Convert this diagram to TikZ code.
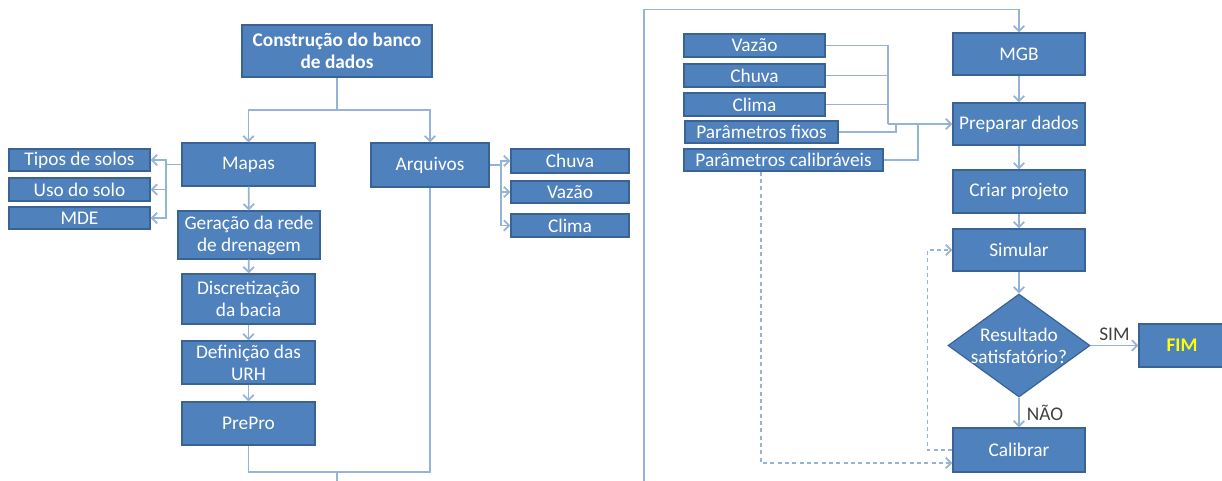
\documentclass[tikz,border=0pt]{standalone}
\usepackage{fontspec}
\setmainfont{Carlito}
\usetikzlibrary{arrows.meta,calc,shapes.geometric}
\definecolor{boxfill}{HTML}{4F81BD}
\definecolor{boxedge}{HTML}{3A6395}
\definecolor{wirecol}{HTML}{95B3D7}
\definecolor{fimtext}{HTML}{FFFF00}
\newcommand\pxu{0.75pt}
\newcommand\boxfont{\fontsize{14.5}{16.5}\selectfont}

\begin{document}
\begin{tikzpicture}[
  x=0.75pt, y=-0.75pt,
  box/.style={draw=boxedge, line width=0.9pt, fill=boxfill, text=white, align=center, inner sep=0pt, font=\boxfont},
  big/.style={box, minimum width=133*\pxu, minimum height=43*\pxu},
  slim/.style={box, minimum height=23*\pxu},
  wire/.style={draw=wirecol, line width=1.3pt},
  arr/.style={wire, -{Straight Barb[length=4pt,width=8pt]}},
  loopback/.style={arr, dash pattern=on 3pt off 2.5pt},
  lbl/.style={font=\boxfont, text=black!75}
]
\useasboundingbox (0,0) rectangle (1222,480);

\node[box, font=\boxfont\bfseries, minimum width=190*\pxu, minimum height=52*\pxu] (db) at (337,51) {Construção do banco\\de dados};
\node[big] (mapas) at (248.5,164.5) {Mapas};
\node[big, minimum width=118*\pxu, minimum height=44*\pxu] (arquivos) at (430,165) {Arquivos};
\node[slim, minimum width=141*\pxu, minimum height=22*\pxu] (tipos) at (79.5,160) {Tipos de solos};
\node[slim, minimum width=141*\pxu] (uso) at (79.5,189.5) {Uso do solo};
\node[slim, minimum width=141*\pxu, minimum height=22*\pxu] (mde) at (79.5,218) {MDE};
\node[slim, minimum width=118*\pxu, minimum height=24*\pxu] (chuvaA) at (570,161) {Chuva};
\node[slim, minimum width=118*\pxu, minimum height=22*\pxu] (vazaoA) at (570,192) {Vazão};
\node[slim, minimum width=118*\pxu] (climaA) at (570,225.5) {Clima};
\node[big, minimum width=142*\pxu, minimum height=48*\pxu] (geracao) at (249,235) {Geração da rede\\de drenagem};
\node[big, minimum height=50*\pxu] (discret) at (248.5,299) {Discretização\\da bacia};
\node[big] (urh) at (248.5,362.5) {Definição das\\URH};
\node[big] (prepro) at (248.5,423.5) {PrePro};

\node[big, minimum width=132*\pxu, minimum height=42*\pxu] (mgb) at (1019,54) {MGB};
\node[big, minimum width=132*\pxu, minimum height=42*\pxu] (prep) at (1019,124) {Preparar dados};
\node[big, minimum width=132*\pxu] (criar) at (1019,191.5) {Criar projeto};
\node[big, minimum width=132*\pxu, minimum height=42*\pxu] (simular) at (1019,250) {Simular};
\node[box, diamond, aspect=1.38, inner sep=-2pt, minimum width=142*\pxu, minimum height=103*\pxu] (result) at (1019,345.5) {Resultado\\satisfatório?};
\node[box, font=\boxfont\bfseries, text=fimtext, minimum width=86*\pxu, minimum height=43*\pxu] (fim) at (1182,345.5) {FIM};
\node[big, minimum width=132*\pxu, minimum height=44*\pxu] (calibrar) at (1019,450) {Calibrar};

\node[slim, minimum width=141*\pxu] (vazaoB) at (754.5,45.5) {Vazão};
\node[slim, minimum width=141*\pxu] (chuvaB) at (754.5,75.5) {Chuva};
\node[slim, minimum width=141*\pxu] (climaB) at (754.5,104.5) {Clima};
\node[slim, minimum width=153*\pxu, minimum height=22*\pxu] (fixos) at (761.5,132) {Parâmetros fixos};
\node[slim, minimum width=199*\pxu, minimum height=22*\pxu] (calib) at (783.5,160) {Parâmetros calibráveis};

\coordinate (split) at (337,110);
\draw[wire] (db) -- (split);
\draw[arr] (split) -| (mapas);
\draw[arr] (split) -| (arquivos);

\coordinate (mbus) at (166,164.5);
\draw[wire] (mapas.west) -- (mbus);
\foreach \n in {tipos,uso,mde}
  \draw[arr] (mbus) |- (\n.east);

\coordinate (abus) at (501,165);
\draw[wire] (arquivos.east) -- (abus);
\foreach \n in {chuvaA,vazaoA,climaA}
  \draw[arr] (abus) |- (\n.west);

\foreach \a/\b in {mapas/geracao,geracao/discret,discret/urh,urh/prepro}
  \draw[arr] (\a) -- (\b);

\coordinate (merge) at (337,472);
\coordinate (lend) at (337,481);
\draw[wire] (prepro) |- (merge) -| (arquivos);
\draw[wire] (merge) -- (lend);

\coordinate (rend) at (644,481);
\draw[arr] (rend) |- ($(mgb.north)+(0,-23)$) -- (mgb);

\coordinate (pbus) at (888,124);
\foreach \n in {vazaoB,chuvaB,climaB}
  \draw[wire] (\n) -| (pbus);
\draw[wire] (fixos) -| ($(pbus)+(8,0)$);
\draw[wire] (calib) -| ($(pbus)+(30,0)$);
\draw[arr] (pbus) -- (prep);

\foreach \a/\b in {mgb/prep,prep/criar,criar/simular,simular/result}
  \draw[arr] (\a) -- (\b);
\draw[arr] (result) -- node[lbl, above] {SIM} (fim);
\draw[arr] (result) -- node[lbl, right=2pt] {NÃO} (calibrar);

\draw[loopback] (calibrar.west) -- ++(-25,0) |- (simular.west);
\draw[loopback] ($(calib.south)+(-22.5,0)$) |- ($(calibrar.west)+(0,13)$);
\end{tikzpicture}
\end{document}
